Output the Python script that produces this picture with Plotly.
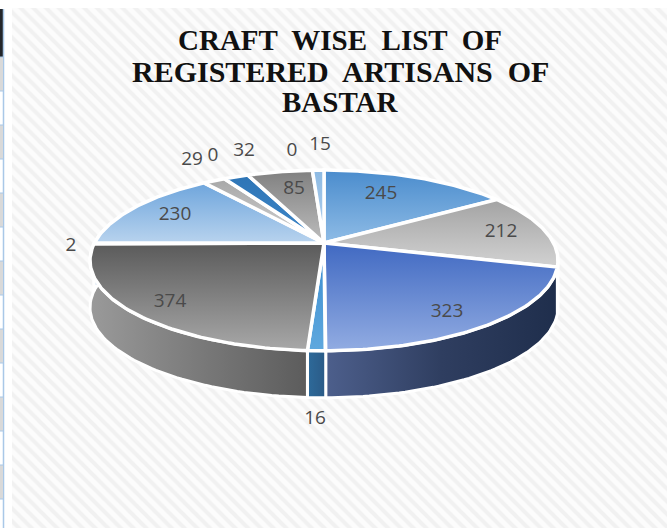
import numpy as np
import plotly.graph_objects as go

# Artisans registered per craft, clockwise from twelve o'clock
crafts_values = [245, 212, 323, 16, 374, 2, 230, 29, 0, 32, 0, 85, 15]
value_labels = ["245", "212", "323", "16", "374", "2", "230", "29", "0", "32", "0", "85", "15"]
title_lines = ["CRAFT  WISE  LIST  OF", "REGISTERED  ARTISANS  OF", "BASTAR"]

# Hand-placed label anchors in page pixels
label_x = [381, 501, 447, 315, 170, 71, 175, 192, 213, 244, 292, 294, 320]
label_y = [194, 232, 312, 419, 302, 246, 215, 160, 156, 151, 151, 189, 145]

# Gradient stops per slice: top face (dark, light), rim (left, middle, right)
face_colors = [
    ("#4a8ccd", "#8fbce6"), ("#a3a3a3", "#d2d2d2"), ("#4069c2", "#92ace2"),
    ("#3a8ccf", "#5fa8de"), ("#5a5a5a", "#a8a8a8"), ("#5a5a5a", "#a8a8a8"),
    ("#6ea5dc", "#b8d3ee"), ("#a8a8a8", "#d2d2d2"), ("#2e75b6", "#2e75b6"),
    ("#2e75b6", "#3f87c9"), ("#888888", "#888888"), ("#808080", "#bdbdbd"),
    ("#8dbae3", "#b5d2ee"),
]
rim_colors = [
    ("#4a7fb5", "#3d6c9c", "#2f5a85"), ("#7e7e7e", "#747474", "#2a3a58"),
    ("#4d5f8c", "#2f3e60", "#1f2e4c"), ("#2d6a9a", "#2c6290", "#2a5a86"),
    ("#9a9a9a", "#7a7a7a", "#5c5c5c"), ("#909090", "#909090", "#909090"),
    ("#6a9acb", "#6a9acb", "#6a9acb"), ("#8a8a8a", "#8a8a8a", "#8a8a8a"),
    ("#2e75b6", "#2e75b6", "#2e75b6"), ("#2e75b6", "#2e75b6", "#2e75b6"),
    ("#888888", "#888888", "#888888"), ("#808080", "#808080", "#808080"),
    ("#8dbae3", "#8dbae3", "#8dbae3"),
]

# Perspective parameters of the tilted disc
CX, CY = 324, 243
A, B, K = 229.6, 87.0, 0.193
DEPTH = 47


def project(theta):
    """Map clockwise angles (radians from twelve o'clock) to page pixels."""
    sx, cy = np.sin(theta), np.cos(theta)
    d = 1 + K * cy
    return CX + A * sx / d, CY - B * cy / d


fig = go.Figure()

# Hatched chart area
fig.add_trace(go.Scatter(
    x=[12, 667, 667, 12, 12], y=[8, 8, 528, 528, 8], mode="lines",
    line=dict(width=0), fill="toself", fillcolor="#fcfcfc",
    fillpattern=dict(shape="\\", size=9, solidity=0.45, fgcolor="#e6e6e6", bgcolor="#fcfcfc"),
    hoverinfo="skip", showlegend=False,
))

total = sum(crafts_values)
edges = np.cumsum([0] + crafts_values) / total * 2 * np.pi

# Outer wall of the disc: only the part facing the viewer
for i, v in enumerate(crafts_values):
    lo, hi = max(edges[i], np.pi / 2 + 0.2), min(edges[i + 1], 3 * np.pi / 2 + 0.2)
    if v == 0 or hi <= lo:
        continue
    t = np.linspace(lo, hi, 60)
    px, py = project(t)
    x = np.r_[px, px[::-1], px[0]]
    y = np.r_[py, py[::-1] + DEPTH, py[0]]
    fig.add_trace(go.Scatter(
        x=x, y=y, mode="lines", line=dict(color="white", width=3), fill="toself",
        fillgradient=dict(type="horizontal",
                          colorscale=[[0, rim_colors[i][0]], [0.5, rim_colors[i][1]], [1, rim_colors[i][2]]]),
        hoverinfo="skip", showlegend=False,
    ))

# Top faces, darker towards the back of the disc
for i, v in enumerate(crafts_values):
    if v == 0:
        continue
    t = np.linspace(edges[i], edges[i + 1], 80)
    px, py = project(t)
    fig.add_trace(go.Scatter(
        x=np.r_[CX, px, CX], y=np.r_[CY, py, CY], mode="lines",
        line=dict(color="white", width=3.5), fill="toself",
        fillgradient=dict(type="vertical",
                          colorscale=[[0, face_colors[i][1]], [1, face_colors[i][0]]]),
        name=value_labels[i], hoverinfo="skip", showlegend=False,
    ))

# Value labels
fig.add_trace(go.Scatter(
    x=label_x, y=label_y, mode="text", text=value_labels,
    textfont=dict(family="Open Sans", size=19, color="#4a4a4a"),
    textposition="middle center", hoverinfo="skip", showlegend=False,
))

# Title
title_y = [40, 71, 102]
title_sizes = [29, 30, 29]
for line, yy, fs in zip(title_lines, title_y, title_sizes):
    fig.add_annotation(x=340, y=yy, text="<b>" + line + "</b>", showarrow=False, xanchor="center",
                       yanchor="middle", font=dict(family="Liberation Serif", size=fs, color="#111111"))

# Neighbouring worksheet strip at the left edge
shapes = [
    dict(type="rect", x0=0, x1=3, y0=9, y1=57, fillcolor="#23262b", line_width=0, layer="below"),
    dict(type="line", x0=3.5, x1=3.5, y0=9, y1=528, line=dict(color="#a9c8e8", width=1.5), layer="below"),
]
row_lines = list(range(57, 528, 34))
for j, y0 in enumerate(row_lines):
    if j % 2 == 0 and y0 + 34 <= 528:
        shapes.append(dict(type="rect", x0=0, x1=3, y0=y0, y1=y0 + 34, fillcolor="#d9d9d9",
                           line_width=0, layer="below"))
    shapes.append(dict(type="line", x0=0, x1=3, y0=y0, y1=y0,
                       line=dict(color="#a9c8e8", width=1), layer="below"))

fig.update_layout(
    width=667, height=528, margin=dict(l=0, r=0, t=0, b=0),
    paper_bgcolor="white", plot_bgcolor="white", shapes=shapes,
    xaxis=dict(range=[0, 667], visible=False, fixedrange=True),
    yaxis=dict(range=[528, 0], visible=False, fixedrange=True),
    showlegend=False,
)
fig.write_html("out.html", config=dict(displayModeBar=False))
